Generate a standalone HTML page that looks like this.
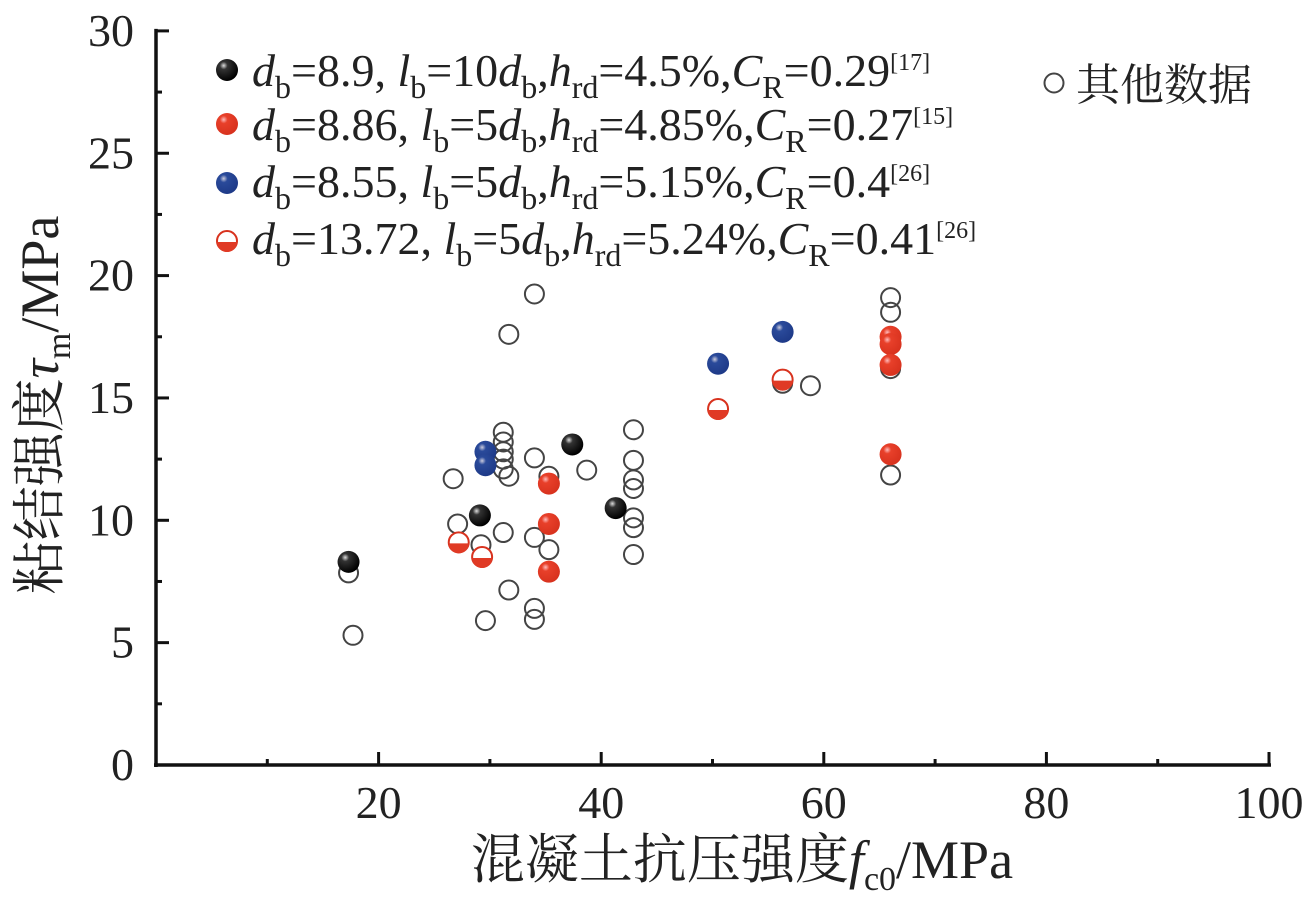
<!DOCTYPE html>
<html><head><meta charset="utf-8"><style>
html,body{margin:0;padding:0;background:#fff}
svg text{font-family:"Liberation Serif","Noto Serif CJK SC",serif;fill:#222}
</style></head><body>
<svg id="chart" width="1307" height="903" viewBox="0 0 1307 903" xmlns="http://www.w3.org/2000/svg">
<defs>
<radialGradient id="gBlack" cx="0.35" cy="0.3" r="0.7"><stop offset="0" stop-color="#ddd"/><stop offset="0.25" stop-color="#333"/><stop offset="1" stop-color="#000"/></radialGradient>
<radialGradient id="gRed" cx="0.35" cy="0.3" r="0.7"><stop offset="0" stop-color="#fbb"/><stop offset="0.25" stop-color="#e8402a"/><stop offset="1" stop-color="#d8321e"/></radialGradient>
<radialGradient id="gBlue" cx="0.35" cy="0.3" r="0.7"><stop offset="0" stop-color="#ccd"/><stop offset="0.25" stop-color="#2a4a9a"/><stop offset="1" stop-color="#1e3a88"/></radialGradient>
</defs>
<g id="axes"></g>
<g id="marks"></g>
<g id="legend">
<g font-size="46" font-family="Liberation Serif,serif">
<text x="252" y="86"><tspan font-style="italic">d</tspan><tspan font-size="32" dy="12">b</tspan><tspan dy="-12">=8.9, </tspan><tspan font-style="italic">l</tspan><tspan font-size="32" dy="12">b</tspan><tspan dy="-12">=10</tspan><tspan font-style="italic">d</tspan><tspan font-size="32" dy="12">b</tspan><tspan dy="-12">,</tspan><tspan font-style="italic">h</tspan><tspan font-size="32" dy="12">rd</tspan><tspan dy="-12">=4.5%,</tspan><tspan font-style="italic">C</tspan><tspan font-size="32" dy="12">R</tspan><tspan dy="-12">=0.29</tspan><tspan font-size="24" dy="-16">[17]</tspan></text>
<text x="252" y="140"><tspan font-style="italic">d</tspan><tspan font-size="32" dy="12">b</tspan><tspan dy="-12">=8.86, </tspan><tspan font-style="italic">l</tspan><tspan font-size="32" dy="12">b</tspan><tspan dy="-12">=5</tspan><tspan font-style="italic">d</tspan><tspan font-size="32" dy="12">b</tspan><tspan dy="-12">,</tspan><tspan font-style="italic">h</tspan><tspan font-size="32" dy="12">rd</tspan><tspan dy="-12">=4.85%,</tspan><tspan font-style="italic">C</tspan><tspan font-size="32" dy="12">R</tspan><tspan dy="-12">=0.27</tspan><tspan font-size="24" dy="-16">[15]</tspan></text>
<text x="252" y="197"><tspan font-style="italic">d</tspan><tspan font-size="32" dy="12">b</tspan><tspan dy="-12">=8.55, </tspan><tspan font-style="italic">l</tspan><tspan font-size="32" dy="12">b</tspan><tspan dy="-12">=5</tspan><tspan font-style="italic">d</tspan><tspan font-size="32" dy="12">b</tspan><tspan dy="-12">,</tspan><tspan font-style="italic">h</tspan><tspan font-size="32" dy="12">rd</tspan><tspan dy="-12">=5.15%,</tspan><tspan font-style="italic">C</tspan><tspan font-size="32" dy="12">R</tspan><tspan dy="-12">=0.4</tspan><tspan font-size="24" dy="-16">[26]</tspan></text>
<text x="252" y="254"><tspan font-style="italic">d</tspan><tspan font-size="32" dy="12">b</tspan><tspan dy="-12">=13.72, </tspan><tspan font-style="italic">l</tspan><tspan font-size="32" dy="12">b</tspan><tspan dy="-12">=5</tspan><tspan font-style="italic">d</tspan><tspan font-size="32" dy="12">b</tspan><tspan dy="-12">,</tspan><tspan font-style="italic">h</tspan><tspan font-size="32" dy="12">rd</tspan><tspan dy="-12">=5.24%,</tspan><tspan font-style="italic">C</tspan><tspan font-size="32" dy="12">R</tspan><tspan dy="-12">=0.41</tspan><tspan font-size="24" dy="-16">[26]</tspan></text>
<text x="1076" y="100" font-size="44">其他数据</text>
</g>
</g>
<text x="742" y="878" text-anchor="middle" font-size="54">混凝土抗压强度<tspan font-style="italic">f</tspan><tspan font-size="34" dy="12">c0</tspan><tspan dy="-12">/MPa</tspan></text>
<text transform="translate(58,405) rotate(-90)" text-anchor="middle" font-size="54">粘结强度<tspan font-style="italic">τ</tspan><tspan font-size="34" dy="12">m</tspan><tspan dy="-12">/MPa</tspan></text>
</svg>
<script>
const xTicks=[20,40,60,80,100];
const yTicks=[0,5,10,15,20,25,30];
const openX=[34.0,31.7,31.2,31.2,31.2,31.2,31.2,31.7,26.7,34.0,35.3,38.7,42.9,42.9,42.9,42.9,42.9,42.9,42.9,27.1,29.2,31.2,34.0,35.3,17.3,17.7,31.7,29.6,34.0,34.0,58.8,56.3,66.0,66.0,66.0,66.0];
const openY=[19.25,17.6,13.6,13.2,12.8,12.5,12.1,11.8,11.7,12.55,11.8,12.05,13.7,12.45,11.65,11.3,10.1,9.7,8.6,9.85,9.0,9.5,9.3,8.8,7.85,5.3,7.15,5.9,6.4,5.95,15.5,15.6,19.1,18.5,16.2,11.85];
const blackX=[17.3,29.1,37.4,41.3];
const blackY=[8.3,10.2,13.1,10.5];
const redX=[35.3,35.3,35.3,66.0,66.0,66.0,66.0];
const redY=[11.5,9.85,7.9,17.5,17.2,16.35,12.7];
const blueX=[29.6,29.6,50.5,56.3];
const blueY=[12.8,12.25,16.4,17.7];
const halfX=[27.2,29.3,50.5,56.3];
const halfY=[9.1,8.5,14.55,15.75];

const NS="http://www.w3.org/2000/svg";
const X0=156,XS=11.13,Y0=765,YS=24.47;
const sx=v=>X0+v*XS, sy=v=>Y0-v*YS;
function mk(tag,attrs,parent){const e=document.createElementNS(NS,tag);for(const k in attrs)e.setAttribute(k,attrs[k]);parent.appendChild(e);return e;}
const axes=document.getElementById('axes');
let l=mk('line',{x1:X0,y1:sy(30)-2,x2:X0,y2:Y0+2,stroke:'#111','stroke-width':3.5},axes);


l=mk('line',{x1:X0-2,y1:Y0,x2:sx(100)+2,y2:Y0,stroke:'#111','stroke-width':3.5},axes);


for(let v=10;v<=100;v+=10){const major=v%20===0;const t=mk('line',{x1:sx(v),y1:Y0,x2:sx(v),y2:Y0-(major?13:6),stroke:'#111','stroke-width':3},axes);

}
for(let v=2.5;v<=30;v+=2.5){const major=v%5===0;const t=mk('line',{x1:X0,y1:sy(v),x2:X0+(major?13:6),y2:sy(v),stroke:'#111','stroke-width':3},axes);

}
xTicks.forEach(v=>{const t=mk('text',{x:sx(v),y:818,'text-anchor':'middle','font-size':46},axes);t.textContent=v;

});
yTicks.forEach(v=>{const t=mk('text',{x:134,y:sy(v)+15,'text-anchor':'end','font-size':46},axes);t.textContent=v;

});

const marks=document.getElementById('marks');
function openPt(cx,cy,p,name){const c=mk('circle',{cx,cy,r:9.5,fill:'none',stroke:'#444','stroke-width':2},p);

}
function ball(cx,cy,fill,p,name){const c=mk('circle',{cx,cy,r:11,fill},p);

}
function half(cx,cy,p,name){const g=mk('g',{},p);


mk('circle',{cx,cy,r:10,fill:'#fff',stroke:'#d8321e','stroke-width':2},g);
mk('path',{d:`M${cx-10} ${cy+1} A10 10 0 0 0 ${cx+10} ${cy+1} Z`,fill:'#e03a25'},g);}
openX.forEach((v,i)=>openPt(sx(v),sy(openY[i]),marks,'open-point'));
blackX.forEach((v,i)=>ball(sx(v),sy(blackY[i]),'url(#gBlack)',marks,'black-point'));
redX.forEach((v,i)=>ball(sx(v),sy(redY[i]),'url(#gRed)',marks,'red-point'));
blueX.forEach((v,i)=>ball(sx(v),sy(blueY[i]),'url(#gBlue)',marks,'blue-point'));
halfX.forEach((v,i)=>half(sx(v),sy(halfY[i]),marks,'half-red-point'));
const lg=document.getElementById('legend');
ball(227,70,'url(#gBlack)',lg,'legend-marker-black');
ball(227,124,'url(#gRed)',lg,'legend-marker-red');
ball(227,183,'url(#gBlue)',lg,'legend-marker-blue');
half(227,241,lg,'legend-marker-half');
openPt(1054,83,lg,'legend-marker-other');
</script>
</body></html>
